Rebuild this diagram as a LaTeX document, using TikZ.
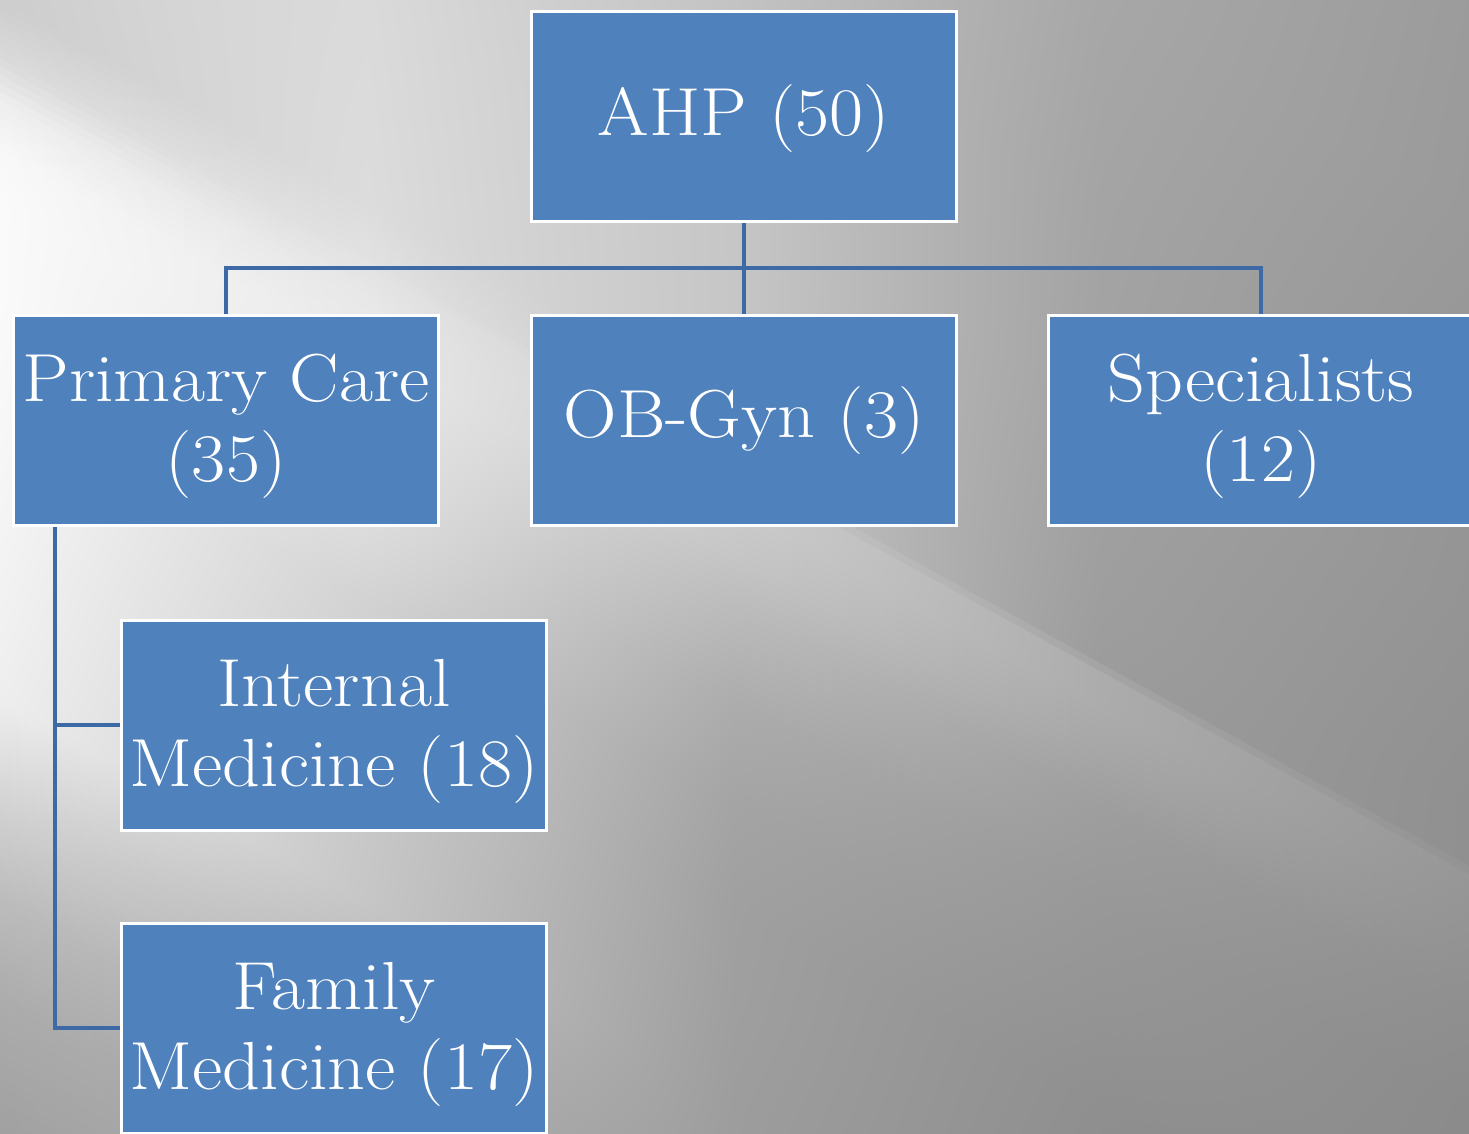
\documentclass[tikz,border=0pt]{standalone}
\usepackage{fontspec}
\usetikzlibrary{calc}

\definecolor{boxblue}{HTML}{4F81BD}
\definecolor{wireblue}{HTML}{3D6AA5}

\pgfdeclarelayer{backdrop}
\pgfdeclarelayer{wires}
\pgfsetlayers{backdrop,wires,main}

\begin{document}
\begin{tikzpicture}[x=1pt,y=-1pt,
  orgbox/.style={draw=white, line width=3pt, fill=boxblue,
    minimum width=425pt, minimum height=210pt, inner sep=0pt},
  orgtext/.style={text=white, font=\fontsize{68}{80}\selectfont,
    align=center, inner sep=0pt, xscale=1.09, transform shape},
  wire/.style={draw=wireblue, line width=3.5pt}]

\useasboundingbox (0,0) rectangle (1469,1133);

% chart boxes
\node[orgbox] (ahp) at (744,116.5) {};
\node[orgbox] (pc)  at (226,420)   {};
\node[orgbox] (ob)  at (744,420)   {};
\node[orgbox] (sp)  at (1261,420)  {};
\node[orgbox] (im)  at (334,725)   {};
\node[orgbox] (fm)  at (334,1028)  {};

% labels
\node[orgtext] (ahp-t) at ([yshift=-2pt]ahp.center) {AHP (50)};
\node[orgtext] (pc-t)  at ([yshift=-6pt]pc.center)  {Primary Care\\(35)};
\node[orgtext] (ob-t)  at ([yshift=-1pt]ob.center)  {OB-Gyn (3)};
\node[orgtext] (sp-t)  at ([yshift=-6pt]sp.center)  {Specialists\\(12)};
\node[orgtext] (im-t)  at ([yshift=-6pt]im.center)  {Internal\\Medicine (18)};
\node[orgtext] (fm-t)  at ([yshift=-6pt]fm.center)  {Family\\Medicine (17)};

% connectors
\coordinate (bus) at (744,268);
\coordinate (trunk) at (55,0);
\begin{pgfonlayer}{wires}
  \draw[wire] (ahp.south) -- (bus);
  \draw[wire] (pc.north) |- (bus) -| (sp.north);
  \draw[wire] (bus) -- (ob.north);
  \draw[wire] (pc.south -| trunk) |- (im.west);
  \draw[wire] (pc.south -| trunk) |- (fm.west);
\end{pgfonlayer}

% grey backdrop with diagonal light streaks, built from thin slanted strips;
% each row gives the strip offset and five grey levels across the width
\begin{pgfonlayer}{backdrop}
\foreach \vc/\vA/\vB/\vC/\vD/\vE
  [remember=\vc as \qc (initially -1000),
   remember=\vA as \qA (initially 212),
   remember=\vB as \qB (initially 212),
   remember=\vC as \qC (initially 195),
   remember=\vD as \qD (initially 172),
   remember=\vE as \qE (initially 156)] in {
  -900/212/212/195/172/156,
  -600/212/215/195/167/154,
  -400/212/216/195/164/150,
  -200/210/218/198/162/148,
  0/205/220/198/158/144,
  58/218/226/200/156/144,
  66/222/228/206/172/151,
  100/238/232/204/172/149,
  150/248/234/198/166/146,
  200/250/232/188/158/143,
  300/250/224/172/152/139,
  400/248/210/164/148/138,
  500/245/205/160/143/136,
  600/242/200/159/141/135,
  700/238/198/157/140/135,
  800/212/182/156/139/135,
  900/188/172/155/139/135,
  1000/172/168/155/139/135,
  1140/160/165/153/139/135}{
  \pgfmathtruncatemacro{\nn}{max(1,round((\vc-\qc)/8))}
  \foreach \kk in {1,...,\nn}{
    \pgfmathsetmacro{\ff}{(\kk-0.5)/\nn}
    \pgfmathsetmacro{\yt}{\qc+(\vc-\qc)*(\kk-1)/\nn}
    \pgfmathsetmacro{\yb}{\qc+(\vc-\qc)*\kk/\nn+1.5}
    \pgfmathsetmacro{\gA}{(\qA+(\vA-\qA)*\ff)/255}
    \pgfmathsetmacro{\gB}{(\qB+(\vB-\qB)*\ff)/255}
    \pgfmathsetmacro{\gC}{(\qC+(\vC-\qC)*\ff)/255}
    \pgfmathsetmacro{\gD}{(\qD+(\vD-\qD)*\ff)/255}
    \pgfmathsetmacro{\gE}{(\qE+(\vE-\qE)*\ff)/255}
    \definecolor{sA}{gray}{\gA}
    \definecolor{sB}{gray}{\gB}
    \definecolor{sC}{gray}{\gC}
    \definecolor{sD}{gray}{\gD}
    \definecolor{sE}{gray}{\gE}
    \shade[left color=sA, right color=sC, middle color=sB]
      (0,\yt) -- (735,\yt+404.25) -- (735,\yb+404.25) -- (0,\yb) -- cycle;
    \shade[left color=sC, right color=sE, middle color=sD]
      (734.5,\yt+404) -- (1469,\yt+808) -- (1469,\yb+808) -- (734.5,\yb+404) -- cycle;
  }
}
\end{pgfonlayer}

\end{tikzpicture}
\end{document}
